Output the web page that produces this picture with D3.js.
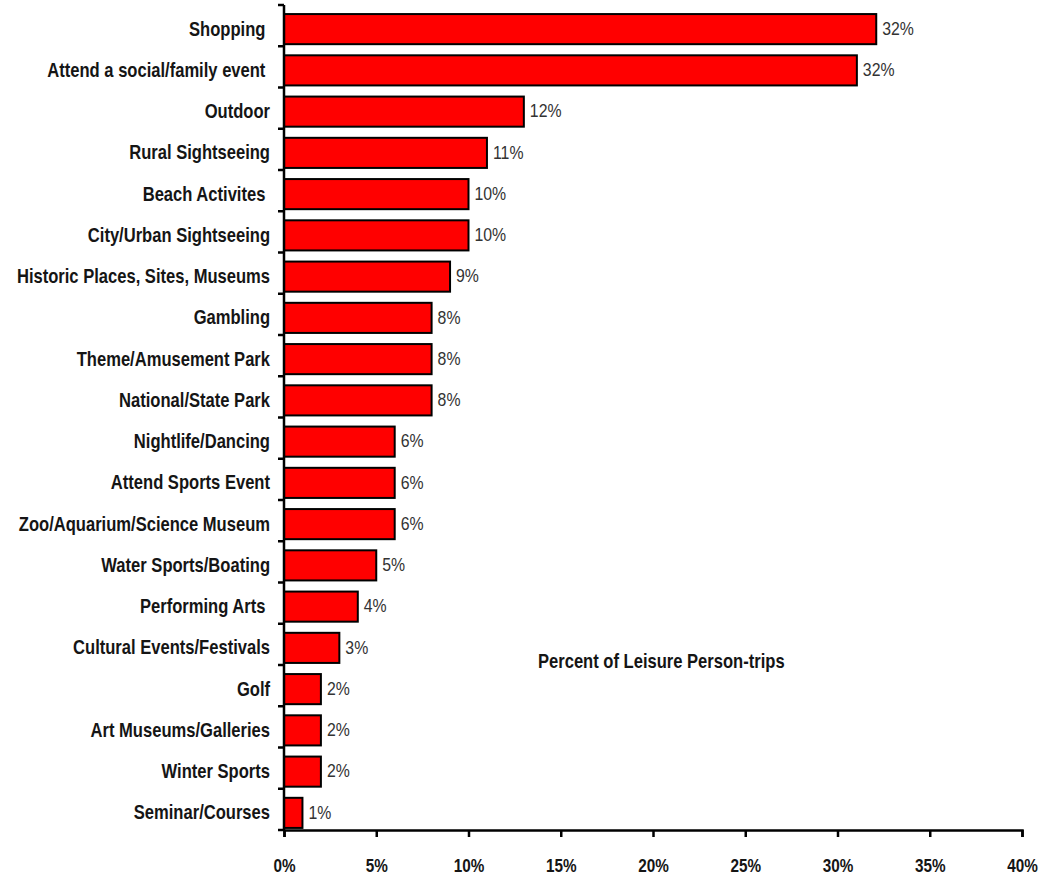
<!DOCTYPE html>
<html><head><meta charset="utf-8">
<script src="https://cdn.jsdelivr.net/npm/d3@7"></script>
<style>body{margin:0;background:#fff}svg{display:block}text{white-space:pre}</style>
</head><body><svg id="c" width="1055" height="875"></svg>
<script>
const categories = ["Shopping ","Attend a social/family event ","Outdoor","Rural Sightseeing","Beach Activites ","City/Urban Sightseeing","Historic Places, Sites, Museums","Gambling","Theme/Amusement Park","National/State Park","Nightlife/Dancing","Attend Sports Event","Zoo/Aquarium/Science Museum","Water Sports/Boating","Performing Arts ","Cultural Events/Festivals","Golf","Art Museums/Galleries","Winter Sports","Seminar/Courses"];
const values = [32.1,31.05,13.0,11.0,10.0,10.0,9.0,8.0,8.0,8.0,6.0,6.0,6.0,5.0,4.0,3.0,2.0,2.0,2.0,1.0];
const valueLabels = ["32%","32%","12%","11%","10%","10%","9%","8%","8%","8%","6%","6%","6%","5%","4%","3%","2%","2%","2%","1%"];
const xTicks = [0,5,10,15,20,25,30,35,40];
const axisTitle = "Percent of Leisure Person-trips";

const svg = d3.select("#c");
const x0 = 284, x1 = 1022, yTop = 5, yBot = 830;
const font = "'Liberation Sans', Arial, sans-serif";
const SX = 0.85;
const x = d3.scaleLinear().domain([0,40]).range([x0,x1]);
const y = d3.scaleBand().domain(categories).range([yTop+3.5,yBot+3.5]).paddingInner(0.27).paddingOuter(0.135);

// bars
svg.append("g").selectAll("rect").data(categories).join("rect")
  .attr("x", x(0)).attr("y", d=>y(d))
  .attr("width", (d,i)=>x(values[i])-x(0)).attr("height", y.bandwidth())
  .attr("fill","#ff0000").attr("stroke","#000").attr("stroke-width",2);

// value labels
svg.append("g").selectAll("text").data(categories).join("text")
  .attr("transform",(d,i)=>`translate(${x(values[i])+6},${y(d)+y.bandwidth()/2}) scale(0.88,1)`)
  .attr("dy","0.32em")
  .attr("font-family",font).attr("font-size",18).attr("fill","#333")
  .text((d,i)=>valueLabels[i]);

// category labels
svg.append("g").selectAll("text").data(categories).join("text")
  .attr("transform",d=>`translate(270,${y(d)+y.bandwidth()/2}) scale(${SX},1)`)
  .attr("dy","0.33em")
  .attr("text-anchor","end").attr("font-family",font).attr("font-weight","bold").attr("font-size",19.5).attr("fill","#151515")
  .text(d=>d);

// y axis line + ticks at category boundaries
const step = (yBot - yTop) / categories.length;
const ya = svg.append("g").attr("stroke","#000").attr("stroke-width",2.5);
ya.append("line").attr("x1",x0).attr("x2",x0).attr("y1",yTop).attr("y2",yBot);
ya.selectAll("line.t").data(d3.range(categories.length+1)).join("line").attr("class","t")
  .attr("x1",x0-6).attr("x2",x0).attr("y1",i=>yTop+i*step).attr("y2",i=>yTop+i*step);

// x axis
const xa = svg.append("g").attr("transform",`translate(0,${yBot})`)
  .call(d3.axisBottom(x).tickValues(xTicks).tickSize(7).tickPadding(0).tickFormat(d=>d+"%"));
xa.select(".domain").attr("stroke","#000").attr("stroke-width",2.5);
xa.selectAll(".tick line").attr("stroke","#000").attr("stroke-width",2.5);
xa.selectAll(".tick text").attr("y",0).attr("dy",0)
  .attr("transform",`translate(0,42) scale(${SX},1)`)
  .attr("font-family",font).attr("font-weight","bold").attr("font-size",18).attr("fill","#151515");

svg.append("text").attr("transform",`translate(538,668) scale(${SX},1)`).attr("font-family",font).attr("font-weight","bold")
  .attr("font-size",19.5).attr("fill","#151515").text(axisTitle);
</script></body></html>
